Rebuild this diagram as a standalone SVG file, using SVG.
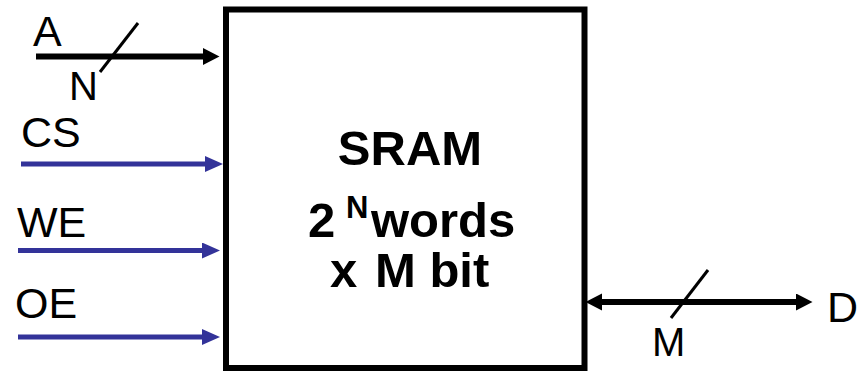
<svg xmlns="http://www.w3.org/2000/svg" width="860" height="372" viewBox="0 0 860 372">
  <style>
    .lbl { font-family: "Liberation Sans", Arial, sans-serif; font-size: 43px; fill: #000; }
    .small { font-size: 40px; }
    .bold { font-family: "Liberation Sans", Arial, sans-serif; font-weight: bold; font-size: 49px; fill: #000; }
    .sup { font-size: 31px; }
    .bus { stroke: #000; stroke-width: 6; fill: none; }
    .ctl { stroke: #333399; stroke-width: 5; fill: none; }
    .slash { stroke: #000; stroke-width: 3; fill: none; }
  </style>
  <defs>
    <marker id="ahBlack" markerUnits="userSpaceOnUse" markerWidth="17" markerHeight="18" refX="0" refY="8.5" orient="auto-start-reverse">
      <path d="M0,0 L16.5,8.5 L0,17 z" fill="#000"/>
    </marker>
    <marker id="ahBlue" markerUnits="userSpaceOnUse" markerWidth="19" markerHeight="17" refX="0" refY="8" orient="auto">
      <path d="M0,0 L18,8 L0,16 z" fill="#333399"/>
    </marker>
  </defs>

  <g id="sram">
    <rect x="226" y="9.5" width="358.5" height="358.5" fill="#fff" stroke="#000" stroke-width="6"/>
    <text class="bold" x="410" y="165" text-anchor="middle">SRAM</text>
    <text class="bold" x="308" y="237">2</text>
    <text class="bold sup" x="346" y="218">N</text>
    <text class="bold" x="371" y="237">words</text>
    <text class="bold" x="330" y="287">x</text>
    <text class="bold" x="375" y="287">M bit</text>
  </g>

  <g id="connectors">
    <line class="bus" x1="36" y1="56.5" x2="203" y2="56.5" marker-end="url(#ahBlack)"/>
    <line class="slash" x1="138" y1="23" x2="100" y2="72"/>
    <line class="ctl" x1="21" y1="164" x2="205" y2="164" marker-end="url(#ahBlue)"/>
    <line class="ctl" x1="18" y1="250.5" x2="202" y2="250.5" marker-end="url(#ahBlue)"/>
    <line class="ctl" x1="18" y1="337" x2="202" y2="337" marker-end="url(#ahBlue)"/>
    <line class="bus" x1="602" y1="302" x2="796" y2="302" stroke-width="5" marker-start="url(#ahBlack)" marker-end="url(#ahBlack)"/>
    <line class="slash" x1="708" y1="270" x2="671" y2="318"/>
  </g>

  <g id="label-A"><text class="lbl" x="33" y="46">A</text></g>
  <g id="label-N"><text class="lbl small" x="69" y="100">N</text></g>
  <g id="label-CS"><text class="lbl" x="21" y="147">CS</text></g>
  <g id="label-WE"><text class="lbl" x="17" y="237">WE</text></g>
  <g id="label-OE"><text class="lbl" x="15" y="318">OE</text></g>
  <g id="label-D"><text class="lbl" x="827" y="322">D</text></g>
  <g id="label-M"><text class="lbl small" x="652" y="356">M</text></g>
</svg>
